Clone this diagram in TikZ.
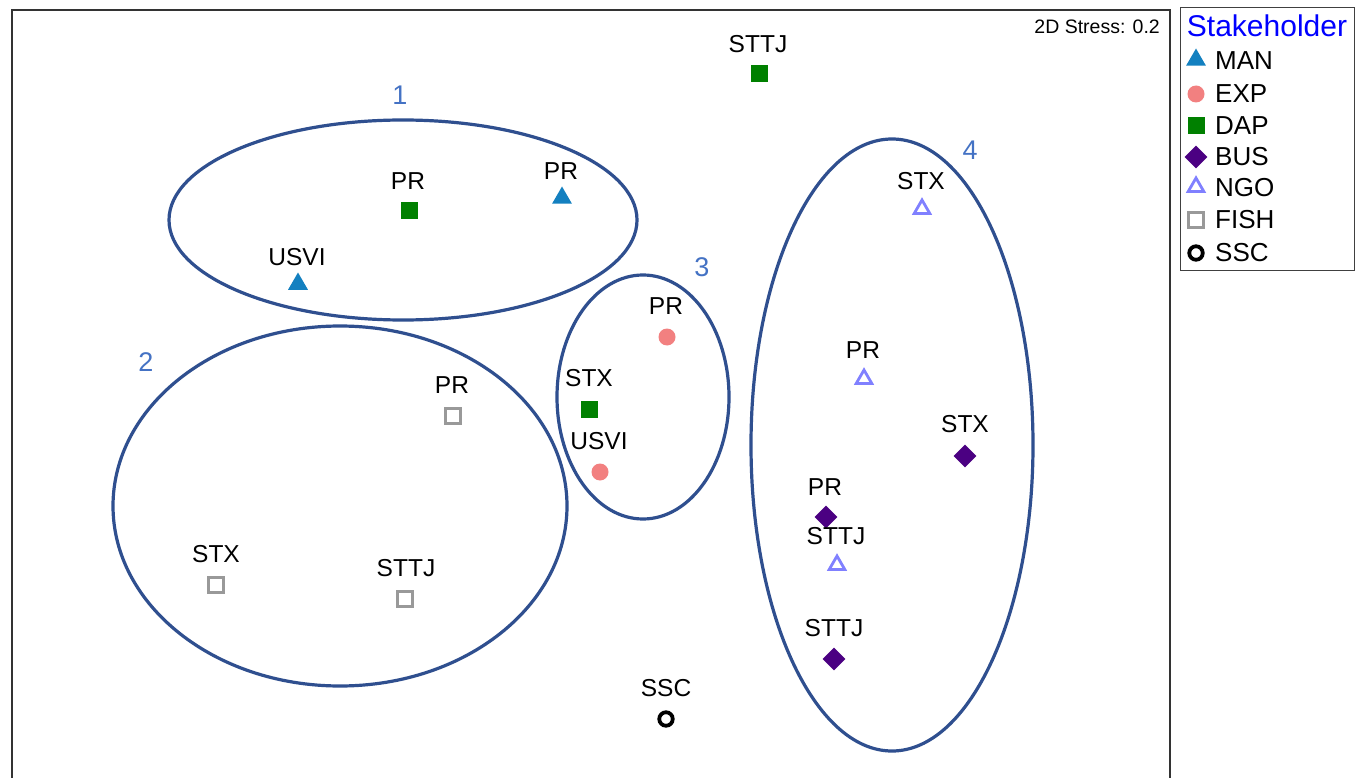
\documentclass[tikz,border=0pt]{standalone}
\usepackage{fontspec}
\setmainfont{Liberation Sans}
\usetikzlibrary{shapes.geometric}
\definecolor{manc}{HTML}{1380C0}
\definecolor{expc}{HTML}{F28080}
\definecolor{dapc}{HTML}{008000}
\definecolor{busc}{HTML}{4B0082}
\definecolor{ngoc}{HTML}{8080FF}
\definecolor{fishc}{HTML}{999999}
\definecolor{ellc}{HTML}{2F4F8F}
\definecolor{numc}{HTML}{4472C4}
\tikzset{
  man/.style={regular polygon, regular polygon sides=3, fill=manc, inner sep=0, minimum size=23pt},
  exp/.style={circle, fill=expc, inner sep=0, minimum size=17pt},
  dap/.style={rectangle, fill=dapc, inner sep=0, minimum size=17pt},
  bus/.style={diamond, fill=busc, inner sep=0, minimum size=23pt},
  ngo/.style={regular polygon, regular polygon sides=3, draw=ngoc, line width=2.8pt, inner sep=0, minimum size=18pt},
  fish/.style={rectangle, draw=fishc, line width=3.3pt, inner sep=0, minimum size=14.5pt},
  ssc/.style={circle, draw=black, line width=3.8pt, inner sep=0, minimum size=13.5pt},
  lab/.style={font=\fontsize{24.5}{26}\selectfont, inner sep=0},
  num/.style={font=\fontsize{27}{29}\selectfont, text=numc, inner sep=0},
  ell/.style={draw=ellc, line width=3.2pt},
  leg/.style={font=\fontsize{26}{28}\selectfont, anchor=west, inner sep=0}
}
\begin{document}
\begin{tikzpicture}[x=1pt,y=-1pt]
\useasboundingbox (0,0) rectangle (1363,778);
\fill[white] (0,0) rectangle (1363,778);
% frame
\draw[line width=1.2pt, black!80] (12,778) -- (12,10) -- (1170,10) -- (1170,778);
\node[font=\fontsize{19.5}{21}\selectfont, anchor=east, inner sep=0] (stress) at (1160,27) {2D Stress: 0.2};
% ellipses
\draw[ell] (403,220) ellipse [x radius=234, y radius=100];
\draw[ell] (340,506) ellipse [x radius=227, y radius=180];
\draw[ell] (643,397) ellipse [x radius=86, y radius=122];
\draw[ell] (892,445) ellipse [x radius=141, y radius=306];
\node[num] (n1) at (400,95) {1};
\node[num] (n2) at (146,362) {2};
\node[num] (n3) at (702,267) {3};
\node[num] (n4) at (970,150) {4};
% points
\node[dap] (p1) at (759,74) {};   \node[lab] (l1) at (758,44) {STTJ};
\node[dap] (p2) at (409,211) {};  \node[lab] (l2) at (408,181) {PR};
\node[man] (p3) at (562,198) {};  \node[lab] (l3) at (561,171) {PR};
\node[man] (p4) at (298,284) {};  \node[lab] (l4) at (297,257) {USVI};
\node[fish] (p5) at (453,416) {}; \node[lab] (l5) at (452,385) {PR};
\node[fish] (p6) at (216,585) {}; \node[lab] (l6) at (216,554) {STX};
\node[fish] (p7) at (405,599) {}; \node[lab] (l7) at (406,568) {STTJ};
\node[exp] (p8) at (667,337) {};  \node[lab] (l8) at (666,306) {PR};
\node[dap] (p9) at (589,409) {};  \node[lab] (l9) at (589,378) {STX};
\node[exp] (p10) at (600,472) {}; \node[lab] (l10) at (599,441) {USVI};
\node[ngo] (p11) at (922,209) {}; \node[lab] (l11) at (921,181) {STX};
\node[ngo] (p12) at (864,379) {}; \node[lab] (l12) at (863,350) {PR};
\node[bus] (p13) at (965,456) {}; \node[lab] (l13) at (965,424) {STX};
\node[bus] (p14) at (826,517) {}; \node[lab] (l14) at (825,487) {PR};
\node[ngo] (p15) at (837,565) {}; \node[lab] (l15) at (836,536) {STTJ};
\node[bus] (p16) at (834,659) {}; \node[lab] (l16) at (834,628) {STTJ};
\node[ssc] (p17) at (666,719) {}; \node[lab] (l17) at (666,688) {SSC};
% legend
\draw[line width=1pt, black!75] (1180,8) rectangle (1354,270);
\node[font=\fontsize{30}{32}\selectfont, text=blue, inner sep=0] (lt) at (1267,26) {Stakeholder};
\node[man] (m1) at (1196,60) {};     \node[leg] (t1) at (1215,61) {MAN};
\node[exp] (m2) at (1196,94) {};     \node[leg] (t2) at (1215,94) {EXP};
\node[dap] (m3) at (1196,126) {};    \node[leg] (t3) at (1215,126) {DAP};
\node[bus] (m4) at (1196,157) {};    \node[leg] (t4) at (1215,157) {BUS};
\node[ngo] (m5) at (1196,187) {};    \node[leg] (t5) at (1215,188) {NGO};
\node[fish] (m6) at (1196,220) {};   \node[leg] (t6) at (1215,220) {FISH};
\node[ssc] (m7) at (1196,253) {};    \node[leg] (t7) at (1215,253) {SSC};
\end{tikzpicture}
\end{document}
